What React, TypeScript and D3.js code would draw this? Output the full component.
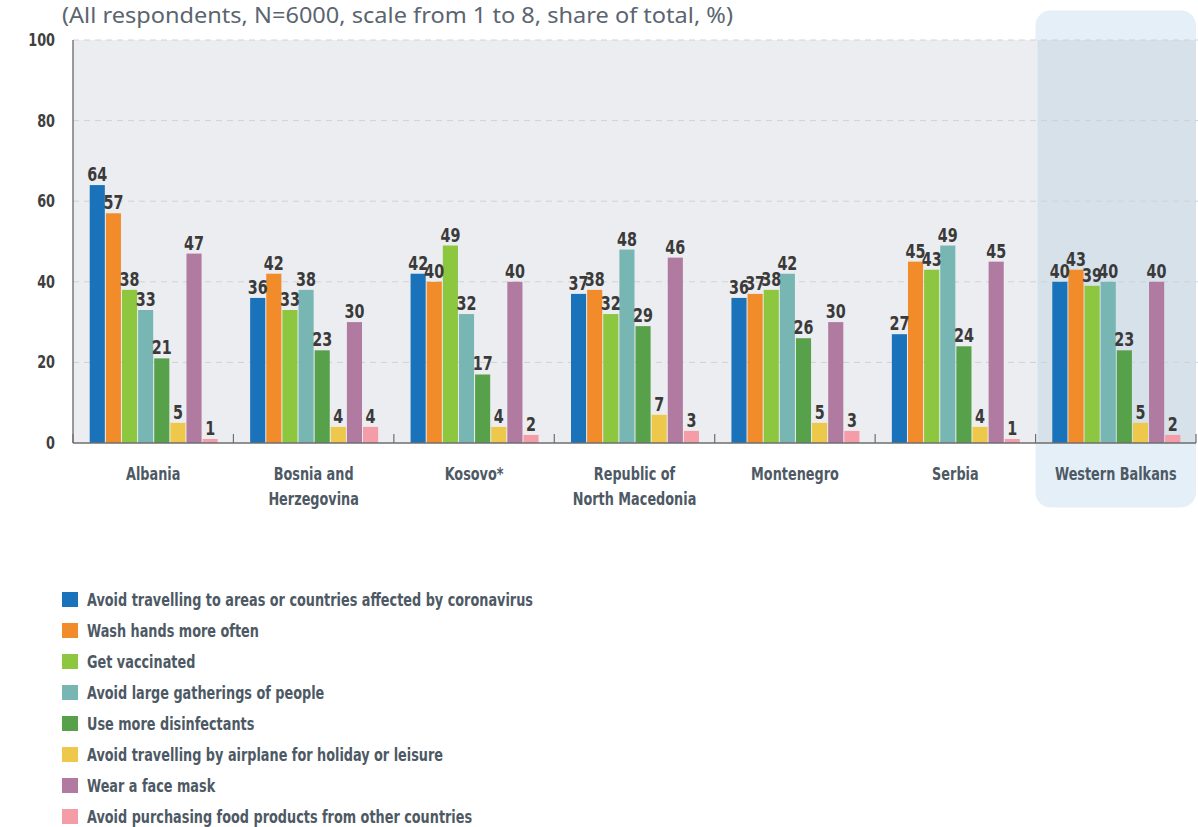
import React from "react";
import * as d3 from "d3";

const categories = [
  ["Albania"],
  ["Bosnia and", "Herzegovina"],
  ["Kosovo*"],
  ["Republic of", "North Macedonia"],
  ["Montenegro"],
  ["Serbia"],
  ["Western Balkans"],
];

const seriesNames = [
  "Avoid travelling to areas or countries affected by coronavirus",
  "Wash hands more often",
  "Get vaccinated",
  "Avoid large gatherings of people",
  "Use more disinfectants",
  "Avoid travelling by airplane for holiday or leisure",
  "Wear a face mask",
  "Avoid purchasing food products from other countries",
];

const seriesColors = ["#1a73ba", "#f28c2a", "#8dc63f", "#78b6b3", "#58a14b", "#eec84b", "#b07aa1", "#f59ca9"];

// values[category][series]
const albania = [64, 57, 38, 33, 21, 5, 47, 1];
const bosnia = [36, 42, 33, 38, 23, 4, 30, 4];
const kosovo = [42, 40, 49, 32, 17, 4, 40, 2];
const northMacedonia = [37, 38, 32, 48, 29, 7, 46, 3];
const montenegro = [36, 37, 38, 42, 26, 5, 30, 3];
const serbia = [27, 45, 43, 49, 24, 4, 45, 1];
const westernBalkans = [40, 43, 39, 40, 23, 5, 40, 2];
const values = [albania, bosnia, kosovo, northMacedonia, montenegro, serbia, westernBalkans];

const yTicks = [0, 20, 40, 60, 80, 100];
const title = "(All respondents, N=6000, scale from 1 to 8, share of total, %)";

const COND = "'DejaVu Sans Condensed', 'DejaVu Sans', sans-serif";
const SX = 0.84;

function CText(props: { x: number; y: number; size: number; anchor?: string; fill: string; children: React.ReactNode; sx?: number }) {
  const { x, y, size, anchor = "start", fill, children, sx = SX } = props;
  return (
    <text
      transform={`translate(${x},${y}) scale(${sx},1)`}
      textAnchor={anchor}
      fontFamily={COND}
      fontWeight="bold"
      fontSize={size}
      fill={fill}
    >
      {children}
    </text>
  );
}

export default function App() {
  const W = 1198, H = 827;
  const left = 73, right = 1196, top = 40, bottom = 443;
  const y = d3.scaleLinear().domain([0, 100]).range([bottom, top]);
  const x0 = d3.scaleBand<number>().domain(d3.range(categories.length)).range([left, right]).paddingInner(0).paddingOuter(0);
  const groupW = x0.bandwidth();
  const barStep = 16;
  const innerW = barStep * seriesNames.length;
  const x1 = d3.scaleBand<number>().domain(d3.range(seriesNames.length)).range([0, innerW]).paddingInner(1 / 16).paddingOuter(0);
  const wbX = x0(6)! + 2;

  return (
    <svg width={W} height={H} style={{ position: "absolute", left: 0, top: 0, background: "#fff" }}>
      {/* Western Balkans highlight box */}
      <rect x={1035.5} y={10.5} width={160.5} height={497} rx={15} ry={15} fill="#e4eff7" />
      {/* plot background */}
      <rect x={left} y={top} width={wbX - left} height={bottom - top} fill="#ecedf0" />
      <rect x={wbX} y={top} width={right - wbX} height={bottom - top} fill="#d6e1ea" />
      {/* title */}
      <text x={62} y={23} fontFamily="'Noto Sans', 'Open Sans', sans-serif" fontSize={22} textLength={671} lengthAdjust="spacingAndGlyphs" fill="#5b6570">{title}</text>
      {/* gridlines */}
      {yTicks.filter(t => t > 0).map(t => (
        <line key={t} x1={left} x2={right + 2} y1={y(t)} y2={y(t)} stroke="#cfd2d6" strokeWidth={1} strokeDasharray="6,5" />
      ))}
      {/* y tick labels */}
      {yTicks.map(t => (
        <CText key={t} x={55} y={y(t) + 6} size={17} anchor="end" fill="#3f3f3f">{t}</CText>
      ))}
      {/* bars */}
      {values.map((row, ci) => {
        const gx = x0(ci)! + (groupW - innerW) / 2 + 0.5;
        return (
          <g key={ci} transform={`translate(${gx},0)`}>
            {row.map((v, si) => (
              <rect key={si} x={x1(si)!} y={y(v)} width={x1.bandwidth()} height={bottom - y(v)} fill={seriesColors[si]} />
            ))}
            {row.map((v, si) => (
              <CText key={"t" + si} x={x1(si)! + x1.bandwidth() / 2} y={y(v) - 4} size={19} anchor="middle" fill="#3a3a3a">{v}</CText>
            ))}
          </g>
        );
      })}
      {/* axes */}
      <line x1={left} x2={left} y1={top} y2={bottom} stroke="#7a7a7a" strokeWidth={1.5} />
      <line x1={left} x2={right} y1={bottom} y2={bottom} stroke="#6e6e6e" strokeWidth={1.5} />
      {d3.range(categories.length + 1).map(i => {
        const tx = left + i * groupW;
        return <line key={i} x1={tx} x2={tx} y1={bottom} y2={bottom - 9} stroke="#6e6e6e" strokeWidth={1.2} />;
      })}
      {/* category labels */}
      {categories.map((lines, ci) =>
        lines.map((l, li) => (
          <CText key={ci + "-" + li} x={x0(ci)! + groupW / 2} y={480 + li * 25} size={17} anchor="middle" fill="#4d5964">{l}</CText>
        ))
      )}
      {/* legend */}
      {seriesNames.map((name, si) => (
        <g key={si} transform={`translate(62,${592 + si * 31})`}>
          <rect x={0} y={0} width={16} height={15} fill={seriesColors[si]} />
          <CText x={25} y={13.5} size={17} fill="#4d5964">{name}</CText>
        </g>
      ))}
    </svg>
  );
}
